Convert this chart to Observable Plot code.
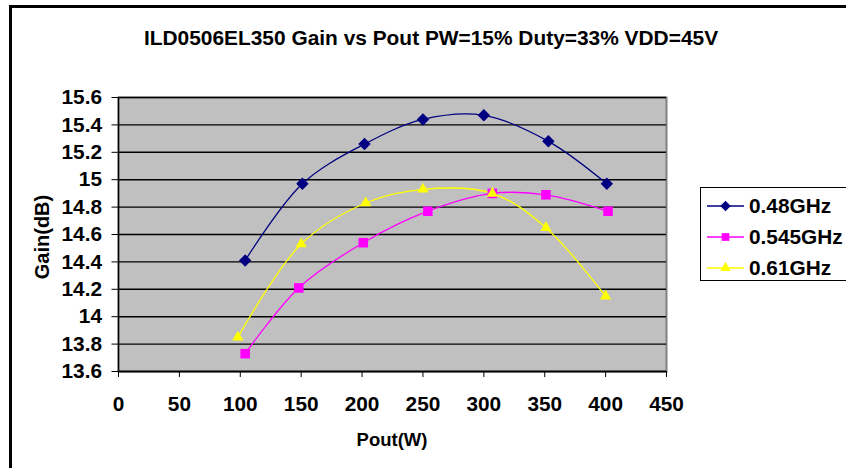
<!DOCTYPE html>
<html>
<head>
<meta charset="utf-8">
<script src="https://cdn.jsdelivr.net/npm/d3@7"></script>
<script src="https://cdn.jsdelivr.net/npm/@observablehq/plot@0.6"></script>
<style>
  html, body { margin: 0; padding: 0; background: #fff; }
  #wrap { position: relative; width: 846px; height: 468px; overflow: hidden;
          font-family: "Liberation Sans", Arial, sans-serif; font-weight: bold; color: #000; }
  #frame { position: absolute; left: 9px; top: 5px; width: 900px; height: 600px;
           border-left: 3px solid #000; border-top: 3px solid #000; }
  #chart { position: absolute; left: 0; top: 0; }
  .title { position: absolute; white-space: nowrap; transform: translate(-50%, -50%); }
  #legend { position: absolute; left: 700px; top: 187px; width: 150px; height: 92px;
            border: 1px solid #000; background: #fff; }
  .lrow { position: absolute; left: 6px; height: 24px; display: flex; align-items: center; }
  .lrow span { margin-left: 4px; font-size: 20.8px; }
</style>
</head>
<body>
<div id="wrap">
  <div id="frame"></div>
  <div id="chart"></div>
  <div class="title" style="left:431px; top:38px; font-size:20.9px;">ILD0506EL350 Gain vs Pout PW=15% Duty=33% VDD=45V</div>
  <div class="title" style="left:392px; top:440px; font-size:18.5px;">Pout(W)</div>
  <div class="title" style="left:42px; top:237px; font-size:20px; transform: translate(-50%, -50%) rotate(-90deg);">Gain(dB)</div>
  <div id="legend"></div>
</div>
<script>
// ---- data ----
const seriesNames = ["0.48GHz", "0.545GHz", "0.61GHz"];
const seriesColors = ["#000080", "#FF00FF", "#FFFF00"];
const poutA = [104, 151, 202, 250, 300, 353, 401];
const gainA = [14.41, 14.97, 15.26, 15.44, 15.47, 15.28, 14.97];
const poutB = [104, 148, 201, 254, 307, 351, 402];
const gainB = [13.73, 14.21, 14.54, 14.77, 14.90, 14.89, 14.77];
const poutC = [98, 150, 203, 250, 307, 351, 400];
const gainC = [13.85, 14.53, 14.83, 14.93, 14.90, 14.65, 14.15];
const xTicks = [0, 50, 100, 150, 200, 250, 300, 350, 400, 450];
const yTicks = [13.6, 13.8, 14, 14.2, 14.4, 14.6, 14.8, 15, 15.2, 15.4, 15.6];

const seriesData = [
  {name: seriesNames[0], x: poutA, y: gainA},
  {name: seriesNames[1], x: poutB, y: gainB},
  {name: seriesNames[2], x: poutC, y: gainC}
];
const rows = seriesData.flatMap(s => s.x.map((x, i) => ({series: s.name, pout: x, gain: s.y[i]})));

const symbols = [d3.symbolDiamond2, d3.symbolSquare, d3.symbolTriangle];
const symSizes = [5.6, 5.4, 4.2];

const dotMarks = seriesNames.map((name, k) =>
  Plot.dot(rows.filter(d => d.series === name), {
    x: "pout", y: "gain", symbol: () => symbols[k], r: symSizes[k],
    fill: seriesColors[k], stroke: "none"
  })
);

const chart = Plot.plot({
  width: 846, height: 468,
  marginLeft: 118, marginRight: 180, marginTop: 97, marginBottom: 97,
  x: {domain: [0, 450]},
  y: {domain: [13.6, 15.6]},
  symbol: {type: "identity"},
  style: {fontFamily: "'Liberation Sans', Arial, sans-serif", fontSize: "20.8px", fontWeight: "bold",
          color: "#000", background: "transparent", overflow: "visible"},
  marks: [
    Plot.frame({fill: "#C0C0C0", stroke: "#808080", strokeWidth: 2}),
    Plot.ruleY(yTicks, {stroke: "#000", strokeWidth: 1.4}),
    Plot.ruleX([0], {stroke: "#000", strokeWidth: 1.4}),
    Plot.ruleY([13.6], {stroke: "#000", strokeWidth: 1.4}),
    Plot.axisX({ticks: xTicks, tickSize: 6, tickPadding: 19, label: null, tickFormat: d => String(d), stroke: "#000"}),
    Plot.axisY({ticks: yTicks, tickSize: 6.5, tickPadding: 10, label: null, tickFormat: d => String(+d.toFixed(1))}),
    Plot.line(rows, {x: "pout", y: "gain", z: "series", stroke: d => seriesColors[seriesNames.indexOf(d.series)],
                     curve: "catmull-rom", strokeWidth: 1.3}),
    ...dotMarks
  ],
  color: {type: "identity"}
});
document.getElementById("chart").appendChild(chart);

// ---- legend ----
const legend = d3.select("#legend");
seriesNames.forEach((name, k) => {
  const row = legend.append("div").attr("class", "lrow").style("top", (6 + 31 * k) + "px");
  const svg = row.append("svg").attr("width", 38).attr("height", 20);
  svg.append("line").attr("x1", 0).attr("x2", 37).attr("y1", 10).attr("y2", 10)
     .attr("stroke", seriesColors[k]).attr("stroke-width", 1.3);
  const sz = [70, 60, 50][k];
  svg.append("path").attr("d", d3.symbol(symbols[k], sz)()).attr("transform", "translate(18.5,10)")
     .attr("fill", seriesColors[k]);
  row.append("span").text(name);
});
</script>
</body>
</html>
